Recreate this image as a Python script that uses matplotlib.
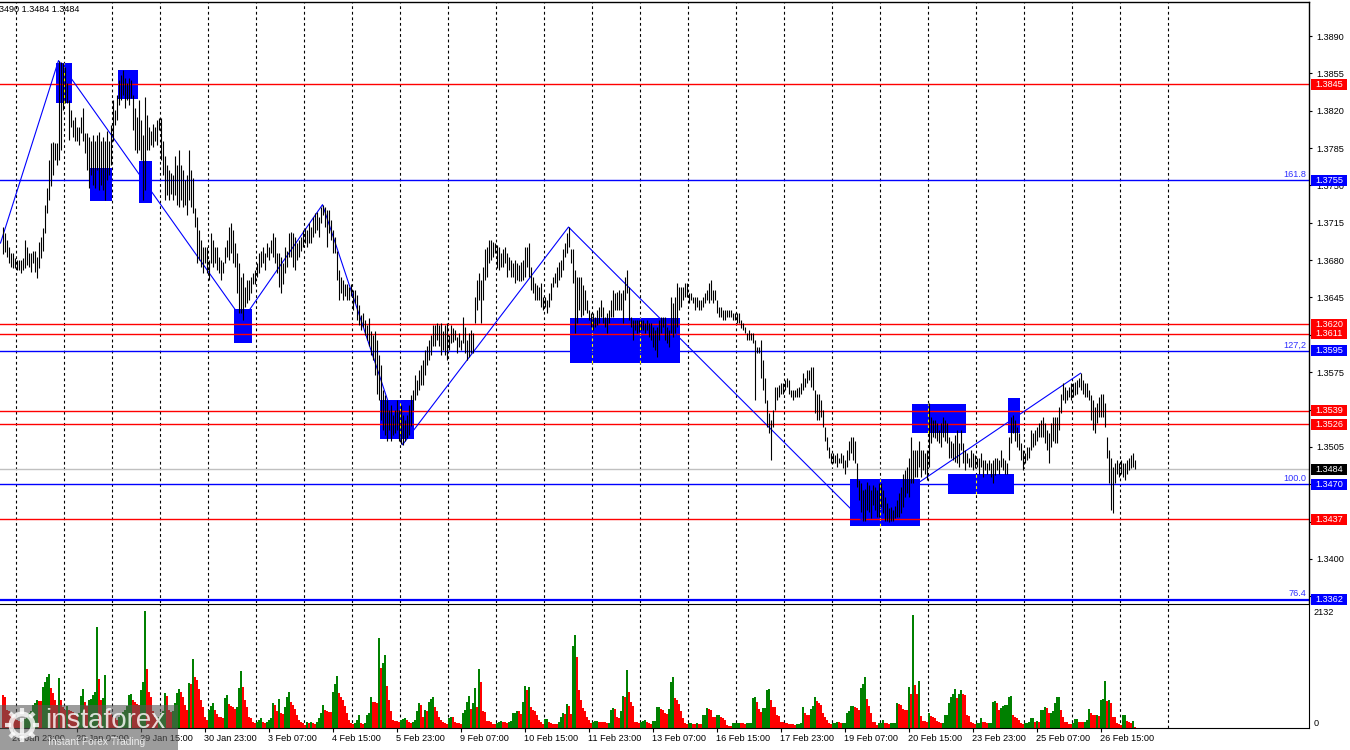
import numpy as np
import matplotlib
matplotlib.use("Agg")
from matplotlib import pyplot as plt
from matplotlib.patches import Rectangle, Circle
from matplotlib.transforms import blended_transform_factory

plt.rcParams['font.family'] = ['Liberation Sans', 'DejaVu Sans']

# GBPUSD H1 bars, high / low in pips above 1.3000
high_pips = [
    711, 705, 699, 692, 687, 687, 682, 680, 680, 680, 682, 699,
    692, 687, 687, 689, 689, 683, 697, 702, 710, 732, 748, 774,
    790, 791, 790, 790, 867, 866, 865, 861, 846, 830, 821, 811,
    814, 805, 805, 814, 823, 799, 799, 795, 792, 797, 792, 797,
    800, 792, 795, 792, 801, 792, 807, 830, 821, 835, 849, 853,
    858, 851, 846, 851, 849, 835, 823, 814, 830, 811, 797, 833,
    816, 805, 801, 808, 805, 811, 813, 813, 792, 778, 769, 764,
    762, 760, 778, 769, 783, 769, 764, 755, 760, 783, 764, 757,
    729, 720, 708, 699, 692, 692, 692, 680, 705, 699, 692, 692,
    683, 680, 678, 692, 699, 711, 715, 708, 696, 687, 677, 664,
    668, 655, 661, 661, 664, 668, 671, 677, 687, 689, 692, 687,
    696, 692, 699, 705, 702, 687, 687, 683, 677, 692, 689, 705,
    706, 705, 702, 696, 699, 702, 708, 710, 708, 715, 711, 720,
    724, 725, 720, 730, 732, 730, 727, 727, 718, 708, 702, 689,
    671, 664, 661, 658, 658, 655, 658, 652, 652, 647, 638, 629,
    630, 624, 619, 626, 614, 610, 614, 605, 591, 582, 558, 554,
    549, 540, 544, 535, 540, 549, 540, 544, 535, 530, 535, 544,
    554, 558, 572, 568, 577, 582, 586, 596, 600, 605, 610, 619,
    619, 621, 619, 621, 614, 619, 621, 610, 619, 616, 615, 608,
    612, 605, 627, 617, 605, 612, 615, 612, 645, 661, 668, 661,
    674, 690, 692, 699, 699, 697, 696, 694, 692, 687, 690, 692,
    687, 683, 680, 677, 680, 677, 675, 678, 680, 692, 692, 696,
    674, 664, 659, 657, 655, 659, 645, 645, 643, 649, 659, 664,
    668, 674, 678, 680, 690, 696, 705, 711, 690, 690, 671, 664,
    664, 664, 657, 652, 643, 633, 630, 630, 627, 633, 636, 643,
    636, 627, 630, 633, 643, 652, 649, 650, 652, 649, 652, 664,
    671, 655, 627, 624, 624, 624, 624, 624, 624, 621, 624, 621,
    621, 617, 615, 617, 624, 627, 627, 627, 617, 615, 645, 640,
    645, 659, 655, 655, 655, 659, 659, 649, 649, 645, 645, 645,
    643, 643, 645, 649, 652, 659, 661, 652, 652, 643, 636, 636,
    633, 633, 633, 633, 633, 630, 630, 630, 630, 624, 621, 617,
    612, 615, 612, 612, 605, 599, 599, 605, 586, 570, 549, 537,
    530, 540, 561, 561, 563, 565, 565, 568, 570, 568, 558, 558,
    558, 560, 561, 565, 574, 570, 577, 577, 580, 580, 558, 555,
    555, 549, 540, 524, 514, 505, 499, 499, 497, 499, 495, 499,
    497, 493, 502, 511, 514, 514, 511, 490, 474, 471, 465, 466,
    472, 469, 465, 469, 467, 465, 471, 471, 465, 458, 452, 448,
    449, 446, 450, 455, 462, 467, 480, 483, 486, 495, 514, 502,
    502, 502, 511, 502, 502, 499, 502, 546, 533, 530, 530, 527,
    521, 527, 533, 530, 527, 514, 511, 509, 516, 521, 509, 521,
    509, 502, 499, 495, 502, 499, 497, 495, 495, 499, 493, 493,
    490, 493, 490, 493, 495, 495, 493, 502, 495, 493, 490, 514,
    533, 535, 530, 524, 518, 509, 502, 499, 505, 505, 521, 518,
    521, 524, 527, 530, 533, 527, 521, 518, 527, 533, 533, 533,
    542, 555, 565, 561, 558, 561, 565, 565, 566, 568, 570, 574,
    568, 565, 565, 558, 554, 549, 542, 546, 552, 555, 555, 546,
    514, 502, 495, 486, 490, 493, 490, 493, 490, 490, 493, 495,
    497, 499, 493,
]
low_pips = [
    686, 688, 683, 677, 674, 673, 673, 671, 671, 668, 671, 673,
    675, 674, 669, 677, 669, 663, 673, 682, 689, 705, 724, 736,
    749, 760, 774, 769, 774, 783, 821, 827, 827, 793, 805, 795,
    792, 792, 788, 799, 792, 780, 764, 748, 760, 750, 748, 764,
    746, 750, 746, 736, 755, 760, 769, 792, 807, 811, 825, 830,
    835, 823, 830, 825, 832, 802, 783, 780, 783, 774, 736, 746,
    783, 783, 788, 786, 792, 788, 802, 774, 760, 736, 741, 736,
    742, 736, 741, 732, 730, 736, 730, 732, 722, 736, 730, 724,
    711, 677, 680, 674, 668, 677, 668, 661, 677, 674, 677, 671,
    668, 661, 668, 677, 683, 680, 687, 677, 674, 649, 630, 630,
    624, 636, 640, 643, 649, 658, 658, 664, 668, 674, 677, 671,
    683, 680, 687, 683, 677, 668, 655, 649, 658, 668, 674, 683,
    683, 674, 671, 680, 683, 689, 692, 696, 692, 696, 696, 702,
    705, 708, 702, 715, 722, 711, 692, 705, 699, 687, 687, 661,
    643, 649, 643, 646, 643, 643, 646, 633, 640, 624, 619, 615,
    617, 610, 605, 600, 591, 586, 572, 555, 549, 530, 521, 516,
    511, 521, 511, 516, 518, 521, 511, 508, 507, 511, 513, 516,
    525, 540, 549, 554, 558, 563, 563, 572, 582, 586, 591, 600,
    600, 605, 600, 591, 596, 591, 586, 596, 602, 603, 605, 593,
    599, 596, 602, 593, 586, 589, 593, 593, 621, 633, 643, 621,
    643, 661, 664, 677, 680, 683, 687, 673, 671, 674, 674, 677,
    664, 671, 664, 664, 659, 661, 660, 660, 661, 664, 674, 664,
    652, 649, 643, 643, 643, 636, 633, 636, 630, 636, 643, 655,
    659, 655, 661, 664, 671, 683, 687, 692, 677, 659, 612, 621,
    633, 627, 629, 633, 630, 624, 617, 615, 617, 619, 621, 627,
    621, 617, 612, 621, 627, 627, 633, 633, 633, 633, 621, 643,
    649, 624, 617, 605, 615, 612, 613, 615, 615, 612, 615, 608,
    605, 599, 596, 589, 605, 612, 617, 605, 602, 599, 612, 608,
    612, 617, 633, 636, 643, 645, 645, 640, 643, 640, 633, 636,
    633, 633, 636, 640, 643, 640, 643, 640, 643, 630, 627, 627,
    624, 624, 627, 627, 627, 624, 624, 621, 621, 616, 615, 612,
    605, 605, 605, 602, 549, 593, 593, 570, 558, 546, 524, 518,
    493, 524, 540, 549, 552, 555, 555, 558, 561, 555, 552, 549,
    552, 552, 552, 555, 558, 561, 565, 568, 561, 558, 537, 530,
    530, 533, 524, 511, 502, 495, 490, 490, 490, 486, 490, 490,
    485, 480, 486, 493, 499, 493, 490, 467, 455, 444, 436, 436,
    446, 444, 438, 451, 446, 439, 439, 449, 443, 436, 436, 435,
    436, 436, 438, 439, 439, 443, 449, 458, 462, 458, 471, 471,
    477, 477, 486, 477, 483, 480, 474, 486, 509, 514, 513, 511,
    509, 505, 514, 511, 509, 495, 495, 493, 491, 490, 486, 502,
    490, 483, 490, 486, 486, 483, 485, 486, 480, 486, 477, 483,
    480, 483, 477, 471, 479, 483, 480, 486, 483, 480, 480, 493,
    509, 518, 511, 505, 502, 493, 483, 490, 493, 495, 502, 505,
    507, 511, 514, 514, 514, 509, 502, 490, 505, 511, 509, 509,
    521, 537, 549, 546, 549, 552, 549, 552, 554, 555, 561, 558,
    555, 552, 552, 549, 530, 521, 518, 527, 533, 533, 533, 524,
    495, 471, 446, 443, 471, 480, 477, 480, 477, 474, 480, 483,
    485, 486, 484,
]
volume = [
    600, 560, 330, 300, 250, 220, 180, 150, 120, 110, 130, 160,
    200, 260, 300, 420, 450, 506, 490, 480, 750, 830, 933, 982,
    720, 628, 506, 420, 903, 506, 380, 330, 400, 330, 300, 280,
    240, 220, 260, 580, 700, 476, 400, 506, 520, 598, 650, 1848,
    891, 506, 540, 964, 323, 300, 250, 200, 180, 150, 200, 240,
    280, 330, 400, 598, 620, 506, 476, 440, 420, 689, 842, 2132,
    1074, 660, 567, 300, 200, 150, 200, 260, 300, 628, 580, 323,
    280, 300, 445, 628, 700, 660, 567, 420, 323, 811, 800, 1250,
    921, 872, 700, 500, 384, 200, 140, 323, 400, 445, 323, 250,
    201, 190, 180, 537, 598, 430, 400, 384, 350, 384, 720, 1037,
    738, 500, 384, 200, 171, 100, 79, 110, 140, 171, 110, 79,
    100, 140, 171, 445, 415, 300, 525, 262, 250, 384, 567, 659,
    476, 415, 350, 232, 140, 110, 79, 49, 110, 79, 100, 79,
    60, 110, 171, 262, 415, 323, 300, 293, 280, 659, 800, 945,
    628, 567, 500, 400, 262, 150, 79, 60, 79, 140, 232, 79,
    70, 79, 230, 262, 567, 476, 470, 460, 1635, 1086, 1177, 1330,
    763, 506, 300, 140, 130, 120, 100, 140, 160, 171, 140, 110,
    79, 100, 140, 300, 458, 415, 201, 323, 300, 476, 525, 560,
    384, 300, 201, 150, 110, 79, 60, 171, 201, 190, 110, 90,
    79, 66, 262, 330, 476, 580, 342, 445, 720, 384, 1074, 842,
    305, 290, 128, 120, 110, 66, 60, 79, 110, 122, 110, 100,
    90, 110, 130, 262, 270, 310, 305, 244, 476, 760, 689, 738,
    372, 323, 300, 232, 150, 110, 66, 152, 160, 110, 79, 70,
    66, 60, 110, 200, 262, 244, 427, 400, 244, 1500, 1696, 1287,
    689, 506, 354, 300, 201, 150, 79, 110, 115, 122, 110, 98,
    97, 96, 79, 90, 323, 354, 340, 189, 180, 305, 586, 560,
    1055, 659, 476, 400, 110, 100, 79, 110, 115, 140, 110, 79,
    66, 128, 130, 372, 380, 335, 330, 262, 250, 335, 842, 921,
    537, 500, 433, 300, 171, 79, 75, 90, 91, 66, 60, 79,
    70, 60, 232, 240, 354, 350, 323, 201, 200, 232, 240, 201,
    180, 140, 49, 40, 30, 79, 80, 91, 92, 79, 78, 77,
    91, 92, 93, 549, 560, 476, 350, 293, 354, 360, 689, 700,
    506, 384, 380, 232, 220, 110, 100, 79, 78, 77, 66, 60,
    58, 66, 70, 79, 384, 262, 232, 230, 335, 400, 567, 488,
    450, 415, 262, 200, 140, 79, 70, 79, 80, 110, 100, 79,
    90, 95, 262, 300, 397, 400, 384, 360, 323, 720, 800, 933,
    531, 400, 262, 110, 100, 49, 91, 92, 140, 79, 78, 77,
    90, 91, 93, 445, 440, 420, 342, 330, 320, 738, 616, 2050,
    781, 616, 854, 214, 128, 122, 110, 262, 214, 190, 183, 122,
    110, 79, 91, 232, 240, 458, 567, 616, 702, 537, 616, 690,
    610, 600, 232, 214, 110, 79, 66, 79, 80, 171, 110, 105,
    91, 92, 93, 470, 480, 445, 323, 366, 400, 415, 420, 567,
    580, 232, 190, 180, 140, 79, 70, 79, 80, 110, 171, 175,
    110, 120, 110, 323, 330, 372, 360, 262, 270, 300, 445, 555,
    560, 323, 190, 110, 105, 66, 60, 79, 152, 160, 110, 108,
    105, 110, 150, 335, 275, 232, 230, 232, 214, 506, 520, 854,
    488, 500, 445, 201, 190, 79, 60, 49, 232, 240, 128, 100,
    91, 122, 20,
]

x_labels = ["26 Jan 23:00", "28 Jan 07:00", "29 Jan 15:00", "30 Jan 23:00",
            "3 Feb 07:00", "4 Feb 15:00", "5 Feb 23:00", "9 Feb 07:00",
            "10 Feb 15:00", "11 Feb 23:00", "13 Feb 07:00", "16 Feb 15:00",
            "17 Feb 23:00", "19 Feb 07:00", "20 Feb 15:00", "23 Feb 23:00",
            "25 Feb 07:00", "26 Feb 15:00"]
label_bars = [5, 37, 69, 101, 133, 165, 197, 229, 261, 293, 325, 357,
              389, 421, 453, 485, 517, 549]

price_ticks = [1.3890, 1.3855, 1.3820, 1.3785, 1.3750, 1.3715, 1.3680, 1.3645,
               1.3610, 1.3575, 1.3540, 1.3505, 1.3470, 1.3435, 1.3400, 1.3365]

red_levels = [1.3845, 1.3620, 1.3611, 1.3539, 1.3526, 1.3437]
blue_levels = [1.3755, 1.3595, 1.3470, 1.3362]
fib_labels = ["161.8", "127,2", "100.0", "76.4"]
last_price = 1.3484

# zigzag swing points (bar index, price)
zz_bars = [-1, 28, 120, 160, 200, 283, 430, 539]
zz_prices = [1.3696, 1.3867, 1.3624, 1.3732, 1.3507, 1.3711, 1.3436, 1.3574]

# blue zones: first bar, last bar, low, high
zones = [
    (26.5, 34.5, 1.3827, 1.3865),
    (43.5, 54.5, 1.3735, 1.3766),
    (57.5, 67.5, 1.3831, 1.3858),
    (68.0, 74.5, 1.3734, 1.3773),
    (115.5, 124.5, 1.3602, 1.3634),
    (188.5, 205.5, 1.3512, 1.3549),
    (283.5, 338.5, 1.3584, 1.3626),
    (423.5, 458.5, 1.3431, 1.3475),
    (454.5, 481.5, 1.3518, 1.3545),
    (472.5, 505.5, 1.3461, 1.3480),
    (502.5, 508.5, 1.3518, 1.3551),
]

W, H = 1350, 750


def px_rect(left, top, right, bottom):
    return [left / W, 1 - bottom / H, (right - left) / W, (bottom - top) / H]


fig = plt.figure(figsize=(13.5, 7.5), dpi=100)
ax = fig.add_axes(px_rect(0, 2, 1309, 603))
axv = fig.add_axes(px_rect(0, 604, 1309, 728))

xlim = (-1.25, 653.25)
seps = np.arange(25) * 24 + 6.85
dash = (0, (2.5, 2.5))

# price panel
ax.set_xlim(*xlim)
ax.set_ylim(1.335875, 1.392186)
for g in seps:
    ax.axvline(g, color='black', lw=0.8, ls=dash, zorder=0.5)
    axv.axvline(g, color='black', lw=0.8, ls=dash, zorder=0.5)

for x0, x1, p0, p1 in zones:
    ax.add_patch(Rectangle((x0, p0), x1 - x0, p1 - p0, fc='#0000ff', ec='none', zorder=1))
    for g in seps:
        if x0 < g < x1:
            ax.vlines(g, p0, p1, colors='#ffff00', linestyles=dash, lw=0.8, zorder=1.5)

for lv in red_levels:
    ax.axhline(lv, color='#ff0000', lw=1.0, zorder=2)
for lv in blue_levels:
    ax.axhline(lv, color='#0000ff', lw=1.0 if lv != 1.3362 else 1.6, zorder=2)
ax.axhline(last_price, color='#c0c0c0', lw=1.0, zorder=2)

ax.plot(zz_bars, zz_prices, color='#0000ff', lw=0.8, zorder=3)

idx = np.arange(len(high_pips))
highs = 1.3 + np.array(high_pips) / 10000
lows = 1.3 + np.array(low_pips) / 10000
ax.vlines(idx, lows, highs, color='black', lw=0.8, zorder=4)

ax.yaxis.tick_right()
ax.set_yticks(price_ticks)
ax.set_yticklabels([f"{t:.4f}" for t in price_ticks])
ax.tick_params(axis='y', direction='out', length=2.2, width=0.8, pad=2.9, labelsize=6.6)
ax.set_xticks([])
for s in ['left', 'bottom']:
    ax.spines[s].set_visible(False)
for s in ['top', 'right']:
    ax.spines[s].set_linewidth(1.0)

# tags on the price scale
trans = blended_transform_factory(ax.transAxes, ax.transData)
box_w = 36 / 1309
box_h = 11 / 10673
box_x = 1311 / 1309
tags = [(lv, '#ff0000') for lv in red_levels] + [(lv, '#0000ff') for lv in blue_levels]
tags.append((last_price, 'black'))
for lv, col in tags:
    ax.add_patch(Rectangle((box_x, lv - box_h / 2), box_w, box_h, transform=trans,
                           fc=col, ec='none', clip_on=False, zorder=10))
    ax.text(box_x + box_w / 2, lv, f"{lv:.4f}", transform=trans, color='white',
            ha='center', va='center', fontsize=6.6, zorder=11, clip_on=False)
for lv, lab in zip(blue_levels, fib_labels):
    ax.text(1306 / 1309, lv + 1.5 / 10673, lab, transform=trans, color='#3030ff',
            ha='right', va='bottom', fontsize=6.6, zorder=11)

# volume panel
vidx = np.arange(len(volume))
vol_colors = ['#ff0000' if i == 0 or volume[i] <= volume[i - 1] else '#008000'
              for i in range(len(volume))]
axv.bar(vidx, volume, width=1.0, color=vol_colors, lw=0, zorder=2)
axv.set_xlim(*xlim)
axv.set_ylim(-5, 2260)
axv.yaxis.tick_right()
axv.set_yticks([2132, 104])
axv.set_yticklabels(['2132', '0'])
axv.tick_params(axis='y', length=0, pad=3, labelsize=6.6)
axv.set_xticks(label_bars)
axv.set_xticklabels(x_labels, ha='left')
axv.tick_params(axis='x', direction='out', length=3, width=0.8, pad=1.5, labelsize=6.6)
axv.spines['left'].set_visible(False)

# overlay: header text and watermark
ov = fig.add_axes([0, 0, 1, 1], zorder=20)
ov.set_xlim(0, W)
ov.set_ylim(H, 0)
ov.axis('off')
ov.patch.set_alpha(0)
ov.text(-1, 10, "3490 1.3484 1.3484", fontsize=6.6, va='center', ha='left')
ov.add_patch(Rectangle((0, 705), 178, 45, fc='#5a5a5a', ec='none', alpha=0.6))
ov.add_patch(Circle((22, 725), 11, fill=False, ec='white', lw=3.5, alpha=0.8))
for a in np.linspace(0, 2 * np.pi, 9)[:-1]:
    ov.plot([22 + 11 * np.cos(a), 22 + 17 * np.cos(a)],
            [725 + 11 * np.sin(a), 725 + 17 * np.sin(a)],
            color='white', lw=3, alpha=0.8, solid_capstyle='butt')
ov.plot([22, 22], [720, 732], color='white', lw=3, alpha=0.8)
ov.text(45, 721, "instaforex", color='white', alpha=0.8, fontsize=20,
        va='center', ha='left')
ov.text(48, 742, "Instant Forex Trading", color='white', alpha=0.8, fontsize=7.4,
        va='center', ha='left')

fig.savefig("out.png", dpi=100)
